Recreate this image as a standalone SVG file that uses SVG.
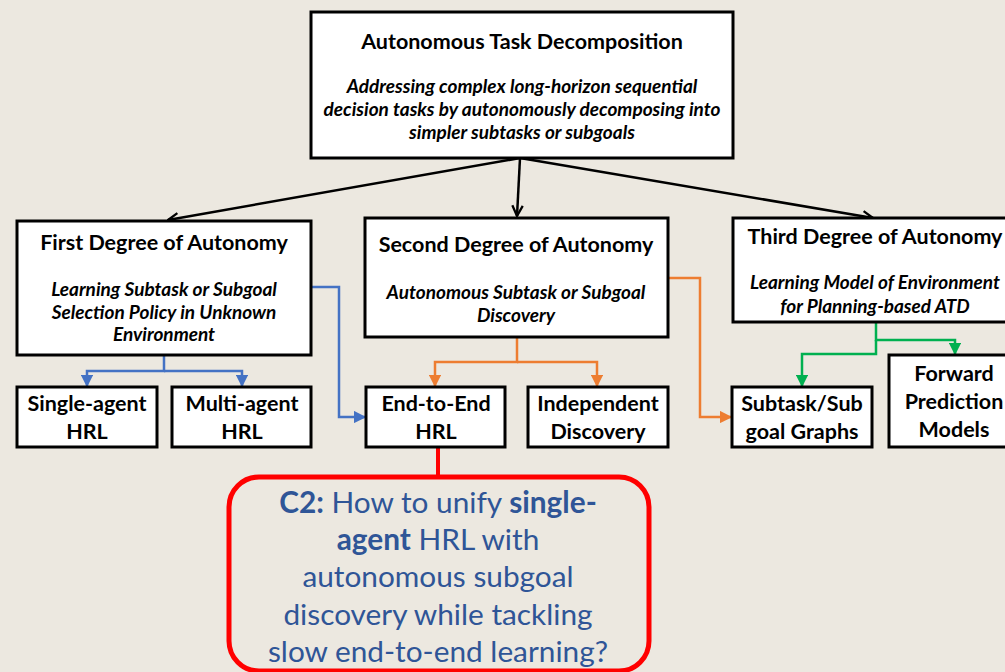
<svg xmlns="http://www.w3.org/2000/svg" width="1005" height="672" viewBox="0 0 1005 672">
<defs>
<style>
.box{fill:#fff;stroke:#000;stroke-width:3}
.t{font-family:Lato,"Open Sans","Liberation Sans",sans-serif;text-anchor:middle;fill:#000}
.h{font-weight:bold;font-size:21.5px}
.i{font-style:italic;font-weight:bold;font-size:19px}
.b{font-weight:bold;font-size:21.5px}
.q{font-size:29.8px;fill:#2f5597}
.blue{fill:none;stroke:#4472c4;stroke-width:2.5}
.orange{fill:none;stroke:#ed7d31;stroke-width:2.5}
.green{fill:none;stroke:#00b050;stroke-width:2.5}
.black{fill:none;stroke:#000;stroke-width:2.5}
</style>
<marker id="ab" viewBox="0 0 10 10" refX="9" refY="5" markerWidth="5" markerHeight="5" orient="auto"><path d="M0,0 L10,5 L0,10 z" fill="#4472c4"/></marker>
<marker id="ao" viewBox="0 0 10 10" refX="9" refY="5" markerWidth="5" markerHeight="5" orient="auto"><path d="M0,0 L10,5 L0,10 z" fill="#ed7d31"/></marker>
<marker id="ag" viewBox="0 0 10 10" refX="9" refY="5" markerWidth="5" markerHeight="5" orient="auto"><path d="M0,0 L10,5 L0,10 z" fill="#00b050"/></marker>
<marker id="ak" viewBox="0 0 12 12" refX="11" refY="6" markerWidth="5" markerHeight="5" orient="auto"><path d="M1,1 L11,6 L1,11" fill="none" stroke="#000" stroke-width="2.2"/></marker>
</defs>
<rect width="1005" height="672" fill="#ece8e0"/>

<g id="connectors">
<path class="black" d="M520,158 L168,220" marker-end="url(#ak)"/>
<path class="black" d="M520,158 L517,216" marker-end="url(#ak)"/>
<path class="black" d="M520,158 L873,218" marker-end="url(#ak)"/>
<path class="blue" d="M164,355 V371 H87 V386" marker-end="url(#ab)"/>
<path class="blue" d="M164,371 H242 V386" marker-end="url(#ab)"/>
<path class="blue" d="M311,287 H339 V417 H365" marker-end="url(#ab)"/>
<path class="orange" d="M517,337 V362 H435 V386" marker-end="url(#ao)"/>
<path class="orange" d="M517,362 H597 V386" marker-end="url(#ao)"/>
<path class="orange" d="M668,278 H700 V417 H731" marker-end="url(#ao)"/>
<path class="green" d="M876,322 V340 H955 V354" marker-end="url(#ag)"/>
<path class="green" d="M876,340 V354 H802 V386" marker-end="url(#ag)"/>
<path d="M438,447 V476" fill="none" stroke="#ff0000" stroke-width="4"/>
</g>

<g id="n-atd">
<rect class="box" x="311" y="12" width="422" height="146"/>
<text class="t h" x="522" y="49">Autonomous Task Decomposition</text>
<text class="t i" x="522" y="93">Addressing complex long-horizon sequential</text>
<text class="t i" x="522" y="116">decision tasks by autonomously decomposing into</text>
<text class="t i" x="522" y="139">simpler subtasks or subgoals</text>
</g>

<g id="n-first">
<rect class="box" x="17" y="221" width="294" height="134"/>
<text class="t h" x="164" y="250">First Degree of Autonomy</text>
<text class="t i" x="164" y="296">Learning Subtask or Subgoal</text>
<text class="t i" x="164" y="319">Selection Policy in Unknown</text>
<text class="t i" x="164" y="341">Environment</text>
</g>

<g id="n-second">
<rect class="box" x="365" y="218" width="303" height="119"/>
<text class="t h" x="516" y="252">Second Degree of Autonomy</text>
<text class="t i" x="516" y="299">Autonomous Subtask or Subgoal</text>
<text class="t i" x="516" y="322">Discovery</text>
</g>

<g id="n-third">
<rect class="box" x="733" y="218" width="280" height="104"/>
<text class="t h" x="875" y="244">Third Degree of Autonomy</text>
<text class="t i" x="875" y="289">Learning Model of Environment</text>
<text class="t i" x="875" y="313">for Planning-based ATD</text>
</g>

<g id="n-single">
<rect class="box" x="17" y="387" width="140" height="60"/>
<text class="t b" x="87" y="411">Single-agent</text>
<text class="t b" x="87" y="439">HRL</text>
</g>

<g id="n-multi">
<rect class="box" x="172" y="387" width="139" height="60"/>
<text class="t b" x="242" y="411">Multi-agent</text>
<text class="t b" x="242" y="439">HRL</text>
</g>

<g id="n-e2e">
<rect class="box" x="366" y="387" width="139" height="60"/>
<text class="t b" x="436" y="411">End-to-End</text>
<text class="t b" x="436" y="439">HRL</text>
</g>

<g id="n-indep">
<rect class="box" x="528" y="387" width="140" height="60"/>
<text class="t b" x="598" y="411">Independent</text>
<text class="t b" x="598" y="439">Discovery</text>
</g>

<g id="n-graphs">
<rect class="box" x="732" y="387" width="140" height="60"/>
<text class="t b" x="802" y="411">Subtask/Sub</text>
<text class="t b" x="802" y="439">goal Graphs</text>
</g>

<g id="n-forward">
<rect class="box" x="889" y="355" width="130" height="92"/>
<text class="t b" x="954" y="381">Forward</text>
<text class="t b" x="954" y="409">Prediction</text>
<text class="t b" x="954" y="437">Models</text>
</g>

<g id="n-c2">
<rect x="229" y="477" width="420" height="194" rx="30" ry="30" fill="none" stroke="#ff0000" stroke-width="5"/>
<text class="t q" x="438" y="513"><tspan font-weight="bold">C2:</tspan> How to unify <tspan font-weight="bold">single-</tspan></text>
<text class="t q" x="438" y="550"><tspan font-weight="bold">agent</tspan> HRL with</text>
<text class="t q" x="438" y="587">autonomous subgoal</text>
<text class="t q" x="438" y="625">discovery while tackling</text>
<text class="t q" x="438" y="662">slow end-to-end learning?</text>
</g>
</svg>
